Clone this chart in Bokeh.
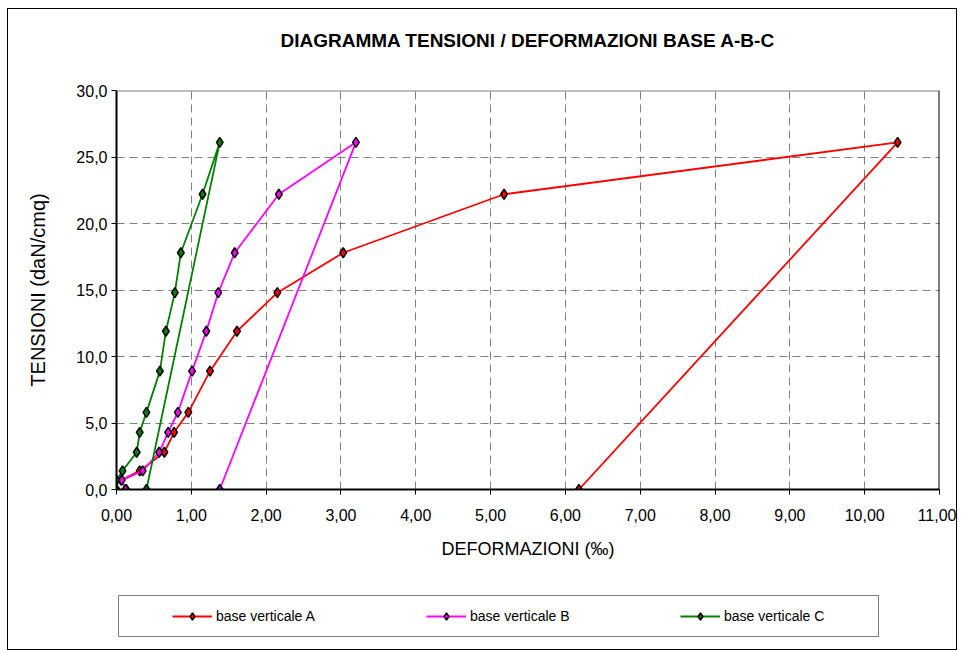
from bokeh.plotting import figure
from bokeh.layouts import column
from bokeh.models import (FixedTicker, CustomJSTickFormatter, Span, Legend, LegendItem)
from bokeh.embed import file_html
from bokeh.resources import INLINE

# ---- data ----
tension = [0, 0.7, 1.4, 2.8, 4.3, 5.8, 8.9, 11.9, 14.8, 17.8, 22.2, 26.1, 0]
def_a = [0.13, 0.06, 0.31, 0.64, 0.77, 0.96, 1.25, 1.61, 2.15, 3.03, 5.18, 10.44, 6.18]
def_b = [0.12, 0.07, 0.35, 0.57, 0.69, 0.82, 1.01, 1.20, 1.36, 1.58, 2.17, 3.20, 1.38]
def_c = [0.00, 0.00, 0.08, 0.27, 0.31, 0.40, 0.58, 0.66, 0.78, 0.86, 1.15, 1.38, 0.40]
series_names = ["base verticale A", "base verticale B", "base verticale C"]
series_colors = ["#ff0000", "#ff00ff", "#008000"]
x_ticks = list(range(0, 12))
y_ticks = [0, 5, 10, 15, 20, 25, 30]
title_text = "DIAGRAMMA TENSIONI / DEFORMAZIONI BASE A-B-C"

FONT = "Liberation Sans"
W = 948
series_x = [def_a, def_b, def_c]

# ---- title strip ----
t = figure(width=W, height=69, min_border=0, min_border_left=108, min_border_right=17,
           x_range=(0, 1), y_range=(0, 1), x_axis_type=None, y_axis_type=None,
           output_backend="svg", toolbar_location=None, outline_line_color=None)
t.grid.visible = False
t.title.text = title_text
t.title.align = "center"
t.title.text_font = FONT
t.title.text_font_size = "19px"
t.title.text_font_style = "bold"
t.title.text_color = "black"
t.title.standoff = 36

# ---- main chart ----
p = figure(frame_width=823, frame_height=399,
           min_border_left=108, min_border_right=17,
           min_border_top=12, min_border_bottom=90,
           x_range=(0, 11), y_range=(0, 30),
           output_backend="svg", toolbar_location=None,
           background_fill_color="white", border_fill_color="white")
p.outline_line_color = None

for ax in (p.xaxis[0], p.yaxis[0]):
    ax.axis_line_color = "black"
    ax.axis_line_width = 2
    ax.major_tick_line_color = "black"
    ax.major_tick_line_width = 1
    ax.major_tick_out = 5
    ax.major_tick_in = 0
    ax.minor_tick_line_color = None
    ax.major_label_text_font = FONT
    ax.major_label_text_font_size = "16px"
    ax.major_label_text_color = "black"
    ax.axis_label_text_font = FONT
    ax.axis_label_text_font_style = "normal"
    ax.axis_label_text_color = "black"

p.xaxis.ticker = FixedTicker(ticks=x_ticks)
p.yaxis.ticker = FixedTicker(ticks=y_ticks)
p.xaxis.formatter = CustomJSTickFormatter(code="return tick.toFixed(2).replace('.', ',');")
p.yaxis.formatter = CustomJSTickFormatter(code="return tick.toFixed(1).replace('.', ',');")
p.xaxis.axis_label = "DEFORMAZIONI (‰)"
p.yaxis.axis_label = "TENSIONI (daN/cmq)"
p.xaxis.axis_label_text_font_size = "18px"
p.yaxis.axis_label_text_font_size = "20px"
p.xaxis.major_label_standoff = 14
p.yaxis.major_label_standoff = 4
p.xaxis.axis_label_standoff = 15
p.yaxis.axis_label_standoff = 24

for g in (p.xgrid[0], p.ygrid[0]):
    g.grid_line_color = "#808080"
    g.grid_line_dash = "8 5"
    g.grid_line_width = 1

# frame top (gray) and right (black) borders
p.add_layout(Span(location=30, dimension="width", line_color="#808080", line_width=2))
p.add_layout(Span(location=11, dimension="height", line_color="black", line_width=2))

for xs, col in zip(series_x, series_colors):
    p.line(xs, tension, line_color=col, line_width=1.8)
    p.scatter(xs, tension, marker="diamond", size=10, fill_color=col,
              line_color="black", line_width=1.5)

# ---- legend strip (series drawn out of view, only their legend swatches show) ----
lg = figure(width=W, height=70, min_border=0, min_border_left=108, min_border_right=17,
            x_range=(0, 11), y_range=(1000, 1001), x_axis_type=None, y_axis_type=None,
            output_backend="svg", toolbar_location=None, outline_line_color=None)
lg.grid.visible = False
items = []
for xs, name, col in zip(series_x, series_names, series_colors):
    lr = lg.line(xs, tension, line_color=col, line_width=1.8)
    sr = lg.scatter(xs, tension, marker="diamond", size=10, fill_color=col,
                    line_color="black", line_width=1.5)
    items.append(LegendItem(label=name, renderers=[lr, sr]))

leg = Legend(items=items, location=(2, 12), orientation="horizontal",
             padding=11, margin=0, spacing=67,
             title=" ", title_location="left", title_standoff=26,
             title_text_font=FONT, title_text_font_size="14px",
             glyph_width=40, glyph_height=18, label_height=18,
             label_standoff=4, label_width=143,
             label_text_font=FONT, label_text_font_size="14px",
             label_text_color="black",
             border_line_color="black", border_line_width=1,
             background_fill_color="white", background_fill_alpha=1)
lg.add_layout(leg, "center")

layout = column(t, p, lg, spacing=0)
layout.styles = {"border": "1px solid black", "margin": "8px 0px 0px 7px"}

open("out.html", "w").write(file_html(layout, INLINE))
